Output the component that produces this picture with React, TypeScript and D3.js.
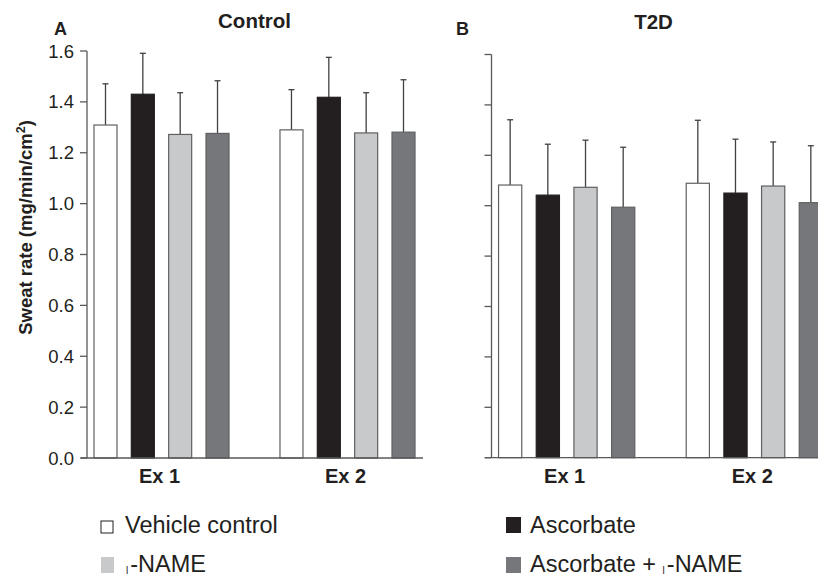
import React from "react";
import * as d3 from "d3";

const categories = ["Ex 1", "Ex 2"];
const seriesNames = ["Vehicle control", "Ascorbate", "L-NAME", "Ascorbate + L-NAME"];
const seriesColors = ["#ffffff", "#231f20", "#c8c9cb", "#76777a"];

// Control panel (A): means and SD per category (rows) and series (cols)
const controlMean = [
  [1.309, 1.43, 1.272, 1.276],
  [1.29, 1.418, 1.278, 1.281],
];
const controlSD = [
  [0.162, 0.161, 0.164, 0.207],
  [0.158, 0.157, 0.158, 0.206],
];
// T2D panel (B)
const t2dMean = [
  [1.082, 1.042, 1.073, 0.994],
  [1.089, 1.05, 1.078, 1.012],
];
const t2dSD = [
  [0.259, 0.202, 0.187, 0.238],
  [0.25, 0.214, 0.175, 0.226],
];
const yTicks = [0, 0.2, 0.4, 0.6, 0.8, 1.0, 1.2, 1.4, 1.6];

const W = 818;
const H = 577;
const AXIS = "#58595b";
const TXT = "#231f20";
const FONT = "'Liberation Sans', Arial, sans-serif";

type PanelProps = {
  x0: number;
  x1: number;
  yTop: number;
  yBase: number;
  means: number[][];
  sds: number[][];
  labels: boolean;
  axisStartX: number;
  axisEndX: number;
};

function Panel({ x0, x1, yTop, yBase, means, sds, labels, axisStartX, axisEndX }: PanelProps) {
  const y = d3.scaleLinear().domain([0, 1.6]).range([yBase, yTop]);
  const outer = d3
    .scaleBand<string>()
    .domain(categories)
    .range([x0, x1])
    .paddingInner(0.274)
    .paddingOuter(0.0376);
  const inner = d3
    .scaleBand<string>()
    .domain(seriesNames)
    .range([0, outer.bandwidth()])
    .paddingInner(0.384)
    .paddingOuter(0);
  const bw = inner.bandwidth();
  return (
    <g>
      {categories.map((c, ci) => (
        <g key={c}>
          {seriesNames.map((s, si) => {
            const bx = (outer(c) as number) + (inner(s) as number);
            const m = means[ci][si];
            const top = y(m + sds[ci][si]);
            const cx = bx + bw / 2;
            return (
              <g key={s}>
                <line x1={cx} x2={cx} y1={y(m)} y2={top} stroke="#414042" strokeWidth={1.3} />
                <line x1={cx - 3} x2={cx + 3} y1={top} y2={top} stroke="#414042" strokeWidth={1.3} />
                <rect
                  x={bx}
                  y={y(m)}
                  width={bw}
                  height={yBase - y(m)}
                  fill={seriesColors[si]}
                  stroke={si === 1 ? "#231f20" : "#5f6062"}
                  strokeWidth={1.2}
                />
              </g>
            );
          })}
          <text
            x={(outer(c) as number) + outer.bandwidth() / 2 - 2}
            y={yBase + 25}
            textAnchor="middle"
            fontFamily={FONT}
            fontWeight="bold"
            fontSize={20}
            fill={TXT}
          >
            {c}
          </text>
        </g>
      ))}
      {/* y axis */}
      <line x1={x0} x2={x0} y1={y(1.6)} y2={yBase} stroke={AXIS} strokeWidth={1.3} />
      {yTicks.map((t) => (
        <g key={t}>
          <line x1={x0 - 7} x2={x0} y1={y(t)} y2={y(t)} stroke={AXIS} strokeWidth={1.3} />
          {labels && (
            <text
              x={x0 - 13}
              y={y(t) + 6.5}
              textAnchor="end"
              fontFamily={FONT}
              fontSize={18.5}
              fill={TXT}
            >
              {d3.format(".1f")(t)}
            </text>
          )}
        </g>
      ))}
      {/* x axis */}
      <line x1={axisStartX} x2={axisEndX} y1={yBase} y2={yBase} stroke={AXIS} strokeWidth={1.3} />
    </g>
  );
}

export default function App() {
  return (
    <svg
      width={W}
      height={H}
      viewBox={`0 0 ${W} ${H}`}
      style={{ position: "absolute", left: 0, top: 0, background: "#fff" }}
    >
      <rect x={0} y={0} width={W} height={H} fill="#fff" />
      <Panel
        x0={87}
        x1={422}
        yTop={51}
        yBase={458}
        means={controlMean}
        sds={controlSD}
        labels={true}
        axisStartX={81}
        axisEndX={423}
      />
      <Panel
        x0={491.5}
        x1={829.5}
        yTop={54.5}
        yBase={457.7}
        means={t2dMean}
        sds={t2dSD}
        labels={false}
        axisStartX={485}
        axisEndX={830}
      />
      {/* panel titles */}
      <text x={54} y={35} fontFamily={FONT} fontWeight="bold" fontSize={18} fill={TXT}>A</text>
      <text x={254.5} y={28} textAnchor="middle" fontFamily={FONT} fontWeight="bold" fontSize={20.5} fill={TXT}>Control</text>
      <text x={456} y={35} fontFamily={FONT} fontWeight="bold" fontSize={18} fill={TXT}>B</text>
      <text x={653.5} y={29} textAnchor="middle" fontFamily={FONT} fontWeight="bold" fontSize={20.5} fill={TXT}>T2D</text>
      {/* y axis title */}
      <text
        transform="translate(32,227.5) rotate(-90)"
        textAnchor="middle"
        fontFamily={FONT}
        fontWeight="bold"
        fontSize={18.5}
        fill={TXT}
      >
        Sweat rate (mg/min/cm
        <tspan fontSize={12.5} dy={-7}>2</tspan>
        <tspan dy={7}>)</tspan>
      </text>
      {/* legend */}
      <rect x={101} y={521} width={12} height={12} fill={seriesColors[0]} stroke={TXT} strokeWidth={1} />
      <text x={125} y={533} fontFamily={FONT} fontSize={23.5} fill={TXT}>{seriesNames[0]}</text>
      <rect x={506} y={517} width={15} height={16} fill={seriesColors[1]} />
      <text x={530} y={533} fontFamily={FONT} fontSize={23.5} fill={TXT}>{seriesNames[1]}</text>
      <rect x={101} y={557} width={13} height={16} fill={seriesColors[2]} />
      <text x={126} y={572} fontFamily={FONT} fontSize={23.5} fill={TXT}>
        <tspan fontSize={10} dy={2}>l</tspan>
        <tspan dy={-2} dx={2}>-NAME</tspan>
      </text>
      <rect x={506} y={557} width={15} height={16} fill={seriesColors[3]} />
      <text x={530} y={572} fontFamily={FONT} fontSize={23.5} fill={TXT}>
        Ascorbate +{" "}
        <tspan fontSize={10} dy={2}>l</tspan>
        <tspan dy={-2} dx={2}>-NAME</tspan>
      </text>
    </svg>
  );
}
